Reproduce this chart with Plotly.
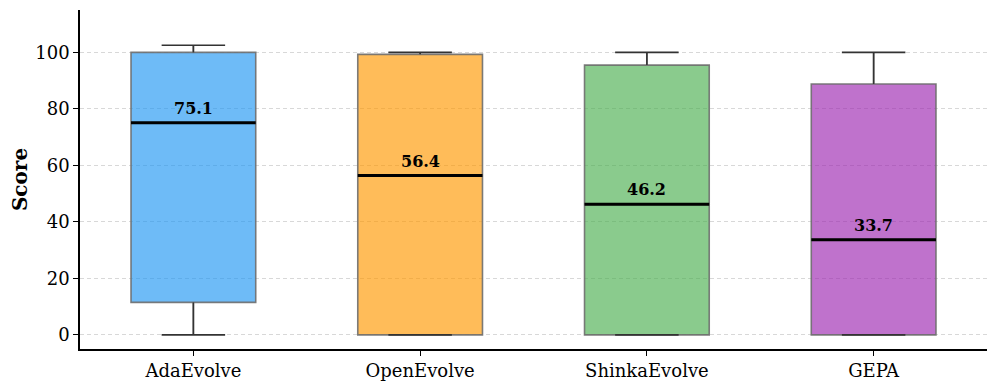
import plotly.graph_objects as go

# --- data ---
methods = ["AdaEvolve", "OpenEvolve", "ShinkaEvolve", "GEPA"]
q1 = [11.5, 0.0, 0.0, 0.0]
medians = [75.1, 56.4, 46.2, 33.7]
q3 = [100.0, 99.3, 95.5, 88.8]
lower_fence = [0.0, 0.0, 0.0, 0.0]
upper_fence = [102.5, 100.0, 100.0, 100.0]

fills = ["rgba(33,150,243,0.65)", "rgba(255,152,0,0.65)",
         "rgba(76,175,80,0.65)", "rgba(156,39,176,0.65)"]

FONT = "DejaVu Serif"
BOX_W = 0.55     # box width in category units
CAP_W = 0.28     # whisker cap width

fig = go.Figure()
positions = list(range(len(methods)))

for i, name in enumerate(methods):
    fig.add_trace(go.Box(
        x=[i], q1=[q1[i]], median=[medians[i]], q3=[q3[i]],
        lowerfence=[lower_fence[i]], upperfence=[upper_fence[i]],
        width=BOX_W, whiskerwidth=0,
        fillcolor=fills[i],
        line=dict(color="rgba(110,110,110,0.9)", width=1.6),
        boxpoints=False, hoverinfo="skip", showlegend=False, name=name,
    ))

# whiskers + caps drawn in dark grey over the boxes
wx, wy = [], []
for i in positions:
    wx += [i, i, None, i, i, None]
    wy += [q3[i], upper_fence[i], None, lower_fence[i], q1[i], None]
    wx += [i - CAP_W / 2, i + CAP_W / 2, None, i - CAP_W / 2, i + CAP_W / 2, None]
    wy += [upper_fence[i], upper_fence[i], None, lower_fence[i], lower_fence[i], None]
fig.add_trace(go.Scatter(x=wx, y=wy, mode="lines",
                         line=dict(color="#333333", width=1.6),
                         hoverinfo="skip", showlegend=False))

# thick black median lines
mx, my = [], []
for i in positions:
    mx += [i - BOX_W / 2, i + BOX_W / 2, None]
    my += [medians[i], medians[i], None]
fig.add_trace(go.Scatter(x=mx, y=my, mode="lines",
                         line=dict(color="black", width=3),
                         hoverinfo="skip", showlegend=False))

# median value labels
for i in positions:
    fig.add_annotation(x=i, y=medians[i], text=f"<b>{medians[i]:.1f}</b>",
                       showarrow=False, yanchor="bottom", yshift=3,
                       font=dict(family=FONT, size=16, color="black"))

# page body adds an 8px offset, so the figure is sized to fill the rest
fig.update_layout(
    width=989, height=379,
    plot_bgcolor="white", paper_bgcolor="white",
    margin=dict(l=72, r=10, t=2, b=38),
    font=dict(family=FONT, size=18, color="black"),
)

fig.update_xaxes(
    range=[-0.5, 3.5],
    tickmode="array", tickvals=positions, ticktext=methods,
    showline=True, linecolor="black", linewidth=1.6,
    ticks="outside", ticklen=5, tickcolor="black",
    showgrid=False, zeroline=False, automargin=False,
    tickfont=dict(family=FONT, size=18),
)

fig.update_yaxes(
    range=[-5, 115],
    tickvals=[0, 20, 40, 60, 80, 100],
    showline=True, linecolor="black", linewidth=1.6,
    ticks="outside", ticklen=5, tickcolor="black",
    showgrid=True, gridcolor="rgba(190,190,190,0.6)", griddash="4px,3px", gridwidth=1,
    zeroline=False, automargin=False,
    title=dict(text="<b>Score</b>", font=dict(family=FONT, size=20), standoff=12),
    tickfont=dict(family=FONT, size=18),
)

fig.write_html("out.html")
